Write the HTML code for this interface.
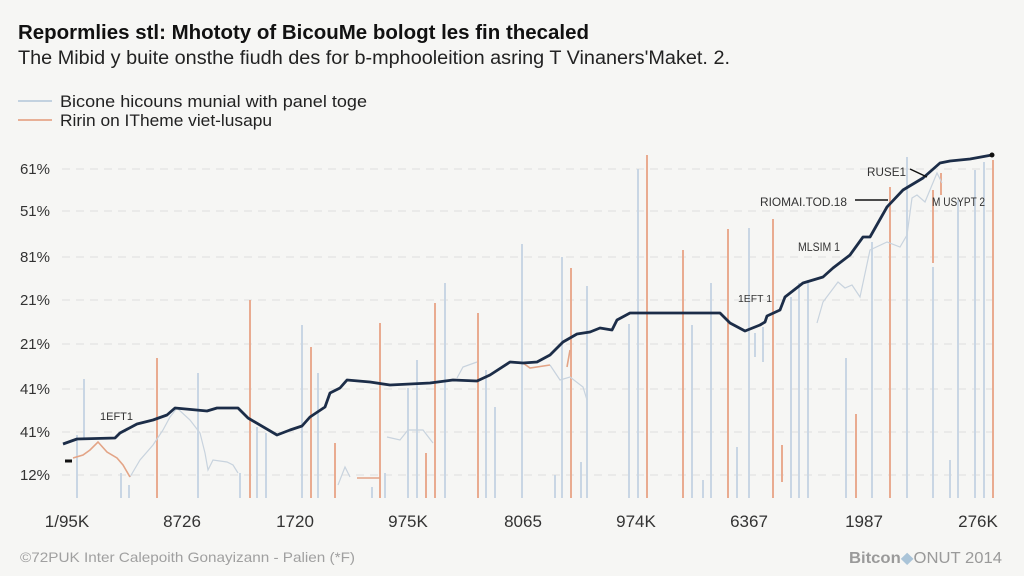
<!DOCTYPE html>
<html><head><meta charset="utf-8"><style>
html,body{margin:0;padding:0;background:#f6f6f4;}
svg{display:block;}
text{font-family:"Liberation Sans",sans-serif;}
</style></head><body>
<svg width="1024" height="576" viewBox="0 0 1024 576" xmlns="http://www.w3.org/2000/svg">
<rect width="1024" height="576" fill="#f6f6f4"/>
<text x="18" y="39" font-size="20" font-weight="bold" fill="#111" textLength="571" lengthAdjust="spacingAndGlyphs">Repormlies stl: Mhototy of BicouMe bologt les fin thecaled</text>
<text x="18" y="64" font-size="19" fill="#222" textLength="712" lengthAdjust="spacingAndGlyphs">The Mibid y buite onsthe fiudh des for b-mphooleition asring T Vinaners'Maket. 2.</text>
<line x1="18" y1="101" x2="52" y2="101" stroke="#c3d2e0" stroke-width="2"/>
<line x1="18" y1="120" x2="52" y2="120" stroke="#e8b097" stroke-width="2"/>
<text x="60" y="107" font-size="17" fill="#222" textLength="307" lengthAdjust="spacingAndGlyphs">Bicone hicouns munial with panel toge</text>
<text x="60" y="126" font-size="17" fill="#222" textLength="212" lengthAdjust="spacingAndGlyphs">Ririn on ITheme viet-lusapu</text>
<g stroke="#dedede" stroke-width="1" stroke-dasharray="8 6">
<line x1="62" y1="169" x2="1000" y2="169"/><line x1="62" y1="211" x2="1000" y2="211"/>
<line x1="62" y1="257" x2="1000" y2="257"/><line x1="62" y1="300" x2="1000" y2="300"/>
<line x1="62" y1="344" x2="1000" y2="344"/><line x1="62" y1="389" x2="1000" y2="389"/>
<line x1="62" y1="432" x2="1000" y2="432"/><line x1="62" y1="475" x2="1000" y2="475"/>
</g>
<g font-size="15" fill="#333" text-anchor="end">
<text x="50" y="174">61%</text><text x="50" y="216">51%</text><text x="50" y="262">81%</text>
<text x="50" y="305">21%</text><text x="50" y="349">21%</text><text x="50" y="394">41%</text>
<text x="50" y="437">41%</text><text x="50" y="480">12%</text>
</g>
<g stroke="#c9d6e4" stroke-width="2">
<line x1="77" y1="435" x2="77" y2="498"/><line x1="84" y1="379" x2="84" y2="440"/>
<line x1="121" y1="473" x2="121" y2="498"/><line x1="129" y1="485" x2="129" y2="498"/>
<line x1="198" y1="373" x2="198" y2="498"/><line x1="240" y1="473" x2="240" y2="498"/>
<line x1="257" y1="427" x2="257" y2="498"/><line x1="266" y1="433" x2="266" y2="498"/>
<line x1="302" y1="325" x2="302" y2="498"/><line x1="318" y1="373" x2="318" y2="498"/>
<line x1="372" y1="487" x2="372" y2="498"/><line x1="385" y1="473" x2="385" y2="498"/>
<line x1="408" y1="388" x2="408" y2="498"/><line x1="417" y1="360" x2="417" y2="498"/>
<line x1="445" y1="283" x2="445" y2="498"/><line x1="486" y1="370" x2="486" y2="498"/>
<line x1="495" y1="407" x2="495" y2="498"/><line x1="522" y1="244" x2="522" y2="498"/>
<line x1="555" y1="475" x2="555" y2="498"/><line x1="562" y1="257" x2="562" y2="498"/>
<line x1="581" y1="462" x2="581" y2="498"/><line x1="587" y1="286" x2="587" y2="498"/>
<line x1="629" y1="324" x2="629" y2="498"/><line x1="638" y1="169" x2="638" y2="498"/>
<line x1="692" y1="325" x2="692" y2="498"/><line x1="703" y1="480" x2="703" y2="498"/>
<line x1="711" y1="283" x2="711" y2="498"/><line x1="737" y1="447" x2="737" y2="498"/>
<line x1="749" y1="228" x2="749" y2="498"/><line x1="755" y1="333" x2="755" y2="357"/>
<line x1="763" y1="327" x2="763" y2="362"/><line x1="791" y1="297" x2="791" y2="498"/>
<line x1="799" y1="283" x2="799" y2="498"/><line x1="808" y1="280" x2="808" y2="498"/>
<line x1="846" y1="358" x2="846" y2="498"/><line x1="872" y1="242" x2="872" y2="498"/>
<line x1="907" y1="157" x2="907" y2="498"/><line x1="933" y1="267" x2="933" y2="498"/>
<line x1="950" y1="460" x2="950" y2="498"/><line x1="958" y1="200" x2="958" y2="498"/>
<line x1="975" y1="170" x2="975" y2="498"/><line x1="984" y1="162" x2="984" y2="498"/>
</g>
<g stroke="#e9ab90" stroke-width="2">
<line x1="157" y1="358" x2="157" y2="498"/><line x1="250" y1="300" x2="250" y2="498"/>
<line x1="311" y1="347" x2="311" y2="498"/><line x1="335" y1="443" x2="335" y2="498"/>
<line x1="380" y1="323" x2="380" y2="498"/><line x1="426" y1="453" x2="426" y2="498"/>
<line x1="435" y1="303" x2="435" y2="498"/><line x1="478" y1="313" x2="478" y2="498"/>
<line x1="571" y1="268" x2="571" y2="498"/><line x1="647" y1="155" x2="647" y2="498"/>
<line x1="683" y1="250" x2="683" y2="498"/><line x1="728" y1="229" x2="728" y2="498"/>
<line x1="773" y1="219" x2="773" y2="498"/><line x1="782" y1="445" x2="782" y2="482"/>
<line x1="856" y1="414" x2="856" y2="498"/><line x1="890" y1="187" x2="890" y2="498"/>
<line x1="933" y1="190" x2="933" y2="263"/><line x1="941" y1="173" x2="941" y2="195"/>
<line x1="993" y1="160" x2="993" y2="498"/>
</g>
<g fill="none" stroke="#c8d3de" stroke-width="1.2">
<polyline points="130,477 140,460 153,445 163,430 170,417 177,408 190,420 200,433 205,453 208,470 213,460 227,462 233,465 238,473"/>
<polyline points="338,485 345,467 350,477"/>
<polyline points="387,437 400,440 408,430 423,430 433,443"/>
<polyline points="457,378 463,367 477,362"/>
<polyline points="550,365 560,380 570,377 583,387 587,400"/>
<polyline points="817,323 823,302 838,282 845,288 852,285 860,297 870,250 887,242 900,247 907,235 912,198 917,195 925,202 937,173 942,183"/>
</g>
<g fill="none" stroke="#e3a486" stroke-width="1.6">
<polyline points="73,458 83,455 90,450 98,442 107,452 117,458 123,465 130,477"/>
<polyline points="357,478 380,478"/>
<polyline points="523,363 530,368 550,365"/>
<polyline points="567,367 570,350"/>
</g>
<line x1="65" y1="461" x2="72" y2="461" stroke="#111" stroke-width="3"/>
<polyline fill="none" stroke="#1c2d48" stroke-width="2.8" stroke-linejoin="round" points="63,444 77,439 115,438 120,433 137,424 153,420 167,415 175,408 207,411 217,408 238,408 248,418 277,435 290,430 302,426 310,417 325,407 330,393 340,388 347,380 370,382 390,385 430,383 453,380 477,381 490,375 510,362 523,363 537,362 550,355 563,342 577,334 590,332 600,328 612,330 617,320 630,313 670,313 720,313 730,323 745,331 760,325 765,322 767,316 780,310 785,297 803,283 823,277 833,268 850,255 863,237 870,237 887,207 903,190 923,178 940,163 950,161 970,159 992,155"/>
<circle cx="992" cy="155" r="2.5" fill="#111"/>
<line x1="910" y1="169" x2="927" y2="177" stroke="#111" stroke-width="1.5"/>
<line x1="855" y1="200" x2="888" y2="200" stroke="#111" stroke-width="1.5"/>
<g fill="#333">
<text x="100" y="420" font-size="11" textLength="33" lengthAdjust="spacingAndGlyphs">1EFT1</text>
<text x="738" y="302" font-size="10" textLength="34" lengthAdjust="spacingAndGlyphs">1EFT 1</text>
<text x="798" y="251" font-size="12" textLength="42" lengthAdjust="spacingAndGlyphs">MLSIM 1</text>
<text x="760" y="206" font-size="12" textLength="87" lengthAdjust="spacingAndGlyphs">RIOMAI.TOD.18</text>
<text x="867" y="176" font-size="12" textLength="39" lengthAdjust="spacingAndGlyphs">RUSE1</text>
<text x="932" y="206" font-size="12" textLength="53" lengthAdjust="spacingAndGlyphs">M USYPT 2</text>
</g>
<g font-size="17" fill="#333" text-anchor="middle">
<text x="67" y="527">1/95K</text><text x="182" y="527">8726</text><text x="295" y="527">1720</text>
<text x="408" y="527">975K</text><text x="523" y="527">8065</text><text x="636" y="527">974K</text>
<text x="749" y="527">6367</text><text x="864" y="527">1987</text><text x="978" y="527">276K</text>
</g>
<text x="20" y="562" font-size="14" fill="#a0a0a0" textLength="335" lengthAdjust="spacingAndGlyphs">©72PUK Inter Calepoith Gonayizann - Palien (*F)</text>
<text x="849" y="563" font-size="16" fill="#9a9a9a" textLength="153" lengthAdjust="spacingAndGlyphs"><tspan font-weight="bold">Bitcon</tspan><tspan fill="#aac4d8">◆</tspan>ONUT 2014</text>
</svg>
</body></html>
